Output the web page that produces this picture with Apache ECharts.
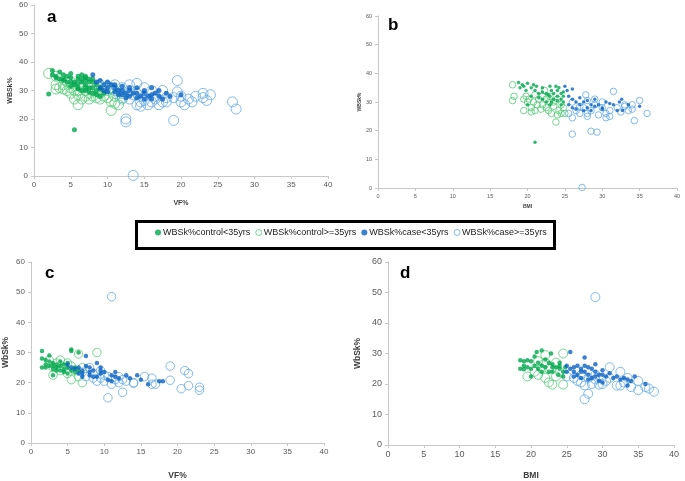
<!DOCTYPE html>
<html><head><meta charset="utf-8">
<script src="https://cdn.jsdelivr.net/npm/echarts@6/dist/echarts.min.js"></script>
<style>html,body{margin:0;padding:0;background:#fff}#c{width:685px;height:481px}</style>
</head><body><div id="c"></div>
<script>
const seriesNames = ['WBSk%control<35yrs','WBSk%control>=35yrs','WBSk%case<35yrs','WBSk%case>=35yrs'];
const panelLabels = ['a','b','c','d'];
const xTitles = ['VF%','BMI','VF%','BMI'];
const yTitles = ['WBSk%','WBSk%','WbSk%','WbSk%'];
const xTicks = [0,5,10,15,20,25,30,35,40];
const yTicks = [0,10,20,30,40,50,60];

// Panel a: VF% vs WBSk%
const aControlYoung = [[2.5,37],[2.5,35.5],[3,34.5],[3.5,36.5],[3,35],[4,34],[4,35.5],[4.5,35],[5,36],[5,34.5],[5.5,33],[6,34],[6,35],[6.5,33],[6.5,35.5],[7,35],[7,33.5],[7,32],[7.5,34],[7.5,31],[8,33],[8,31],[8.5,32],[6,31],[6.5,30],[7,30],[7.5,29.5],[8,29],[8.5,30],[9,30.5],[5,33],[5.5,32],[6,32.5],[4.5,33],[3.5,34],[4,33.5],[7,34.5],[8,34],[9,31],[9.5,29],[2,28.8],[5.5,16.2],[6.5,34],[7.5,33],[8.5,28.5],[9,28],[6,30.5],[7,31],[5,31.5]];
const aControlOld = [[2,36],[3,32],[3,30.5],[3.5,31],[4,32],[4.5,30],[5,29],[5,31],[5.5,27],[6,25],[6,28.5],[6.5,27],[7,28],[7.5,27],[8,28],[8,30],[8.5,27.5],[9,27],[9,29],[9.5,28],[10,27.5],[10,30],[10.5,23],[10.5,26],[11,25.5],[11,28],[11.5,25],[12,27],[7,30],[6.5,31],[5.5,30],[4.5,33],[6,32],[8.5,31],[9.5,31],[10.5,31],[11,30],[7.5,29],[6,30],[5,33],[4,30.5],[3,35],[12,29]];
const aCaseYoung = [[8,35.5],[8.5,33],[9,33.5],[9.5,32],[10,33],[10,31],[10.5,32],[11,31],[11,29.5],[11.5,30],[12,30],[12,28.5],[12.5,29],[13,30],[13,28],[13.5,29],[14,31],[14,27.5],[14.5,28],[15,29],[15,27],[15.5,28],[16,31],[16,28.5],[16,27],[16.5,29],[17,30],[17,28],[17.5,27],[18,29],[18.5,28],[20,28.5],[9,31],[10,29.5],[11,32],[12,31.5],[13,31],[14,29],[15,30],[12.5,27.5],[11.5,28.5],[9.5,30]];
const aCaseOld = [[9,32],[10,31.5],[11,32],[12,31],[12.5,20],[12.5,19],[13,32],[13,30],[13,27],[13.5,0.2],[14,32.5],[14,29],[14.5,24.5],[14.5,26],[15,31],[15,28],[15.5,25],[16,30],[16,26],[16.5,28],[17,25],[17.5,30],[17.5,26],[18,27.5],[19,27.5],[19,19.5],[19.5,33.5],[19.5,29.5],[20,26],[20.5,25],[21,27],[21.5,26],[22,28],[23,29],[23,27.5],[23.5,26.5],[24,28.5],[27,26],[27.5,23.5],[11.5,29],[12,27.5],[14,25],[15,26.5],[16.5,27],[18,26],[20,28],[10.5,30.5],[13.5,28.5]];

// Panel b: BMI vs WBSk%
const bControlYoung = [[18.8,36.8],[19,35],[19.3,36],[19.5,35.5],[19.8,34],[20,36.5],[20.5,35],[20.8,36],[21,34],[21.2,35.5],[21.5,33],[22,35],[22.5,33],[23,35.5],[23.2,34],[23.5,33],[23.8,35.5],[24,34],[24.2,35],[24.5,33],[24.8,32],[22,31],[22.5,30],[23,32],[23.5,31],[24,30.5],[24.5,31],[24.8,30],[23,29],[20,29],[21,16],[21.5,31.5],[22.8,32.5],[24,32],[24.5,29],[23.2,30],[22,33.5],[24.8,33.5],[20.5,32]];
const bControlOld = [[18,36],[18.2,32],[18,30.5],[19.5,27],[19.8,32],[20,30],[20.2,31],[20.5,28],[20.8,30],[21,27],[21.3,29],[21.5,31],[21.8,27.5],[22,29],[22,32],[22.3,34],[22.5,28],[22.8,27],[23,30],[23.2,26],[23.5,28.5],[23.8,23],[24,25.5],[24.2,27],[24.5,29],[24.5,26],[24.8,28],[25,26],[23,32],[24,31],[21,32.5],[22.5,31],[23.5,30],[19.5,31],[20.5,26.5]];
const bCaseYoung = [[25,35.5],[25.3,34],[26,34.5],[25.5,32],[26,31],[26.5,30],[27,31.5],[27,29],[27.5,30],[28,30.5],[28,28],[28.5,29],[29,31],[29,28.5],[29.5,29],[30,28],[30.5,30],[31,29.5],[31.5,29],[32,27],[32.3,30],[32.6,31],[32.7,27],[33.5,29],[35,28.5],[26.5,27.5],[27.5,27],[25.5,29],[26,28],[28.5,27],[30,27.5]];
const bCaseOld = [[25.5,26],[26,24.5],[26,18.8],[26.5,27],[27,26],[27.3,0.2],[27.5,28],[27.8,32.5],[28,25],[28.5,19.8],[28.5,27],[29,31],[29.3,19.5],[29.5,25.5],[30,28],[30.5,26],[30.5,24.5],[31,27],[31.5,33.7],[32,28],[32.5,26.5],[33,28.5],[33.5,27],[34,29],[34.3,23.5],[35,30.5],[36,26],[26,30],[27,28.5],[28,30.5],[29,29],[30,30],[31,25],[33,29],[34,27.5],[28,26]];

// Panel c: VF% vs WbSk%
const cControlYoung = [[1.5,30.5],[1.5,28],[1.5,25],[2,27.5],[2,26],[2.5,29],[2.5,25.5],[3,26.5],[3,24.5],[3,22.5],[3.5,25],[3.5,26],[4,24],[4,25.5],[4,27],[4.5,24.5],[4.5,26],[5,25],[5,23],[5,26.5],[5.5,24],[5.5,31],[5.5,30.5],[6,23.5],[6.5,30],[6.5,24],[2,25],[3,25.5],[3.5,24],[4.5,23.5],[6,25],[2.5,27]];
const cControlOld = [[2.5,27.5],[3,22.5],[3.5,26.5],[4,27.5],[4.5,25],[5,26.5],[5,23],[5.5,21],[6,24],[6.5,29.5],[6.5,22],[7,20],[9,30],[7,25],[4,24],[5.5,25.5],[3,25]];
const cCaseYoung = [[5,26],[5.5,25],[6,24.5],[6.5,25],[7,24],[7,22],[7.5,28.8],[7.5,25.5],[8,23.5],[8,22.5],[8.5,24],[9,26.5],[9,22],[9.5,24],[9.5,23],[10,23.5],[10.5,21],[11,22.5],[11,20.5],[11.5,23.5],[11.5,22],[13,22.5],[13.5,21.5],[14.5,22.5],[15,21],[16,19.5],[17.5,20.5],[18,20.5],[6.5,23],[8,25],[8.5,22],[9.5,25],[7,23],[12,21.5]];
const cCaseOld = [[7,23.5],[7.5,22],[8,25],[8.5,21.5],[9,20.5],[9.5,24],[9.5,21.5],[10,20.5],[10.5,22],[10.5,15],[11,48.5],[11,19.5],[11.5,21],[12,20],[12,22],[12.5,16.8],[13,20.5],[14,20],[15.5,22],[16.5,21.5],[17,19.5],[19,25.5],[19,20.8],[20.5,18],[21,24],[21.5,23],[21.5,19],[23,18.5],[23,17.5],[8.5,23],[10,22.5],[12.5,21],[14,19.8],[16.5,19.5]];

// Panel d: BMI vs WbSk%
const dControlYoung = [[18.5,27.8],[18.5,25],[19,27.5],[19,24.8],[19.5,27.8],[19.5,25.5],[20,27.5],[20,22.5],[20.5,29],[20.5,26],[20.8,30.5],[21,27],[21,25],[21.5,31],[21.5,26],[22,28],[22,25.5],[22.5,24],[22.8,30],[23,26.5],[23,24],[23.5,25.5],[23.8,23],[24,25],[24,27],[24.5,24],[24.5,22.5],[24.8,25.5],[19,26],[20,25],[21.5,24],[22.5,27],[23,25.5],[24,26]];
const dControlOld = [[19.5,22.5],[20.5,24],[21,23],[21.5,25],[22,29.5],[22,27],[22,22],[22.5,20.5],[23,19.8],[23.5,27],[24,24],[24.5,30],[24.5,19.8],[23.5,22.5],[21,27.5],[22.5,25]];
const dCaseYoung = [[25,26],[25.5,30.5],[25.5,25],[26,24],[26,22.5],[26.5,26],[26.5,23],[27,25],[27,22],[27.5,28.7],[27.5,26],[27.5,24],[28,25.5],[28,23],[28.5,22],[29,26.5],[29,24],[29.5,21],[29.5,23],[30,24.5],[30,20.5],[30.5,22.5],[31,23.5],[31.5,22],[32,22.5],[32.5,21.5],[33,22],[33.5,19.5],[34,21],[34.5,22.5],[36,20],[26,25.5],[27,24],[28.5,25],[25,24],[28,21.5],[29,22.5],[30,23],[33.5,21.5]];
const dCaseOld = [[25,22.5],[26,22],[26.5,21],[27,20.5],[27.5,19.5],[27.5,15],[28,16.8],[28,22],[28.5,20],[29,48.5],[29,21.5],[29.5,19.8],[30,20],[30.5,21],[31,25.5],[32,19.5],[32.5,24],[32.5,19.5],[33,20.5],[33.5,22],[35,18],[35,21],[36,19],[36.5,18.5],[37.2,17.5],[27,23],[29,23],[31,22],[34,19]];

const panelData = [
  [aControlYoung, aControlOld, aCaseYoung, aCaseOld],
  [bControlYoung, bControlOld, bCaseYoung, bCaseOld],
  [cControlYoung, cControlOld, cCaseYoung, cCaseOld],
  [dControlYoung, dControlOld, dCaseYoung, dCaseOld]
];

const GREEN = '#00a84f', GREEN_L = '#55cc77', BLUE = '#0a62c4', BLUE_L = '#64aae6';
const grids = [
  {left:34, top:5, width:294, height:171},
  {left:378, top:16, width:299, height:172},
  {left:31, top:262, width:293, height:182},
  {left:388, top:262, width:286, height:185}
];
const tickFont = [8, 5.5, 8, 9];
const titleFont = [7, 5, 8.5, 8.5];
const xGap = [24, 16, 28, 26];
const yGap = [20, 14, 21, 26];
const hollowSize = [10, 6.5, 8.5, 9];
const fillSize = [5, 3.5, 4.5, 4.5];
const labelPos = [[47,9],[388,17],[45,265],[400,265]];

const xAxes = [], yAxes = [], series = [], titles = [];
for (let p = 0; p < 4; p++) {
  xAxes.push({gridIndex:p, type:'value', min:xTicks[0], max:xTicks[xTicks.length-1], interval:5,
    name:xTitles[p], nameLocation:'middle', nameGap:xGap[p],
    nameTextStyle:{fontSize:titleFont[p], fontWeight:'bold', color:'#404040', fontFamily:'Liberation Sans'},
    axisLine:{lineStyle:{color:'#c8c8c8'}}, axisTick:{show:true, length:3, lineStyle:{color:'#c8c8c8'}},
    axisLabel:{fontSize:tickFont[p], color:'#595959', margin:5, fontFamily:'Liberation Sans'}, splitLine:{show:false}});
  yAxes.push({gridIndex:p, type:'value', min:yTicks[0], max:yTicks[yTicks.length-1], interval:10,
    name:yTitles[p], nameLocation:'middle', nameGap:yGap[p], nameRotate:90,
    nameTextStyle:{fontSize:titleFont[p], fontWeight:'bold', color:'#404040', fontFamily:'Liberation Sans'},
    axisLine:{show:true, lineStyle:{color:'#c8c8c8'}}, axisTick:{show:true, length:3, lineStyle:{color:'#c8c8c8'}},
    axisLabel:{fontSize:tickFont[p], color:'#595959', margin:6, fontFamily:'Liberation Sans'}, splitLine:{show:false}});
  const styles = [
    {name:seriesNames[0], size:fillSize[p], itemStyle:{color:GREEN}},
    {name:seriesNames[1], size:hollowSize[p], itemStyle:{color:'rgba(255,255,255,0)', borderColor:GREEN_L, borderWidth:1}},
    {name:seriesNames[2], size:fillSize[p], itemStyle:{color:BLUE}},
    {name:seriesNames[3], size:hollowSize[p], itemStyle:{color:'rgba(255,255,255,0)', borderColor:BLUE_L, borderWidth:1}}
  ];
  const order = [1,3,0,2];
  for (const s of order) {
    series.push({type:'scatter', name:styles[s].name, xAxisIndex:p, yAxisIndex:p, symbol:'circle',
      symbolSize:styles[s].size, itemStyle:styles[s].itemStyle, data:panelData[p][s], animation:false,
      z: s===0||s===2 ? 3 : 2});
  }
  titles.push({text:panelLabels[p], left:labelPos[p][0], top:labelPos[p][1], padding:0,
    textStyle:{fontSize:17, fontWeight:'bold', color:'#000', fontFamily:'Liberation Sans'}});
}

const chart = echarts.init(document.getElementById('c'), null, {renderer:'canvas'});
chart.setOption({
  animation:false,
  title:titles,
  grid:grids,
  xAxis:xAxes,
  yAxis:yAxes,
  graphic:[{type:'rect', left:134, top:219, shape:{width:418, height:27},
    style:{fill:'none', stroke:'#000', lineWidth:3}, z:10}],
  legend:{data:[
      {name:seriesNames[0], itemStyle:{color:GREEN}},
      {name:seriesNames[1], itemStyle:{color:'#fff', borderColor:GREEN_L, borderWidth:1}},
      {name:seriesNames[2], itemStyle:{color:BLUE}},
      {name:seriesNames[3], itemStyle:{color:'#fff', borderColor:BLUE_L, borderWidth:1}}],
    left:155, top:228, width:600, padding:0,
    icon:'circle', itemWidth:6, itemHeight:6, itemGap:5,
    textStyle:{fontSize:9, color:'#222', fontFamily:'Liberation Sans', padding:[0,0,0,-3]}},
  series:series
});
</script></body></html>
